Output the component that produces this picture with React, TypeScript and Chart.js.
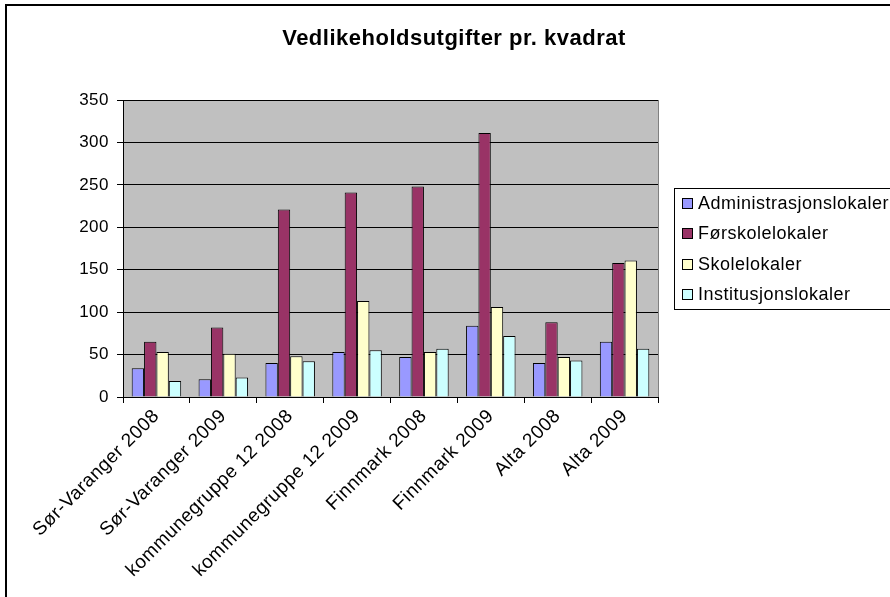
import React, { useEffect, useRef } from "react";
import { Chart, registerables } from "chart.js";

Chart.register(...registerables);

const titleText = "Vedlikeholdsutgifter pr. kvadrat";
const categories = [
  "Sør-Varanger 2008",
  "Sør-Varanger 2009",
  "kommunegruppe 12 2008",
  "kommunegruppe 12 2009",
  "Finnmark 2008",
  "Finnmark 2009",
  "Alta 2008",
  "Alta 2009",
];
const seriesNames = ["Administrasjonslokaler", "Førskolelokaler", "Skolelokaler", "Institusjonslokaler"];
const administrasjon = [34, 21, 40, 53, 47, 84, 40, 65];
const forskole = [65, 82, 221, 241, 248, 311, 88, 158];
const skole = [53, 51, 48, 113, 53, 106, 47, 161];
const institusjon = [19, 23, 42, 55, 57, 72, 43, 57];
const seriesColors = ["#9999FF", "#993366", "#FFFFCC", "#CCFFFF"];
const yMin = 0;
const yMax = 350;
const yStep = 50;

const FONT = "'Liberation Sans', Arial, sans-serif";
const LETTER_SPACING = "0.5px";

const spacingPlugin = {
  id: "spacing",
  beforeLayout(chart: any) {
    chart.ctx.letterSpacing = LETTER_SPACING;
  },
  beforeDraw(chart: any) {
    chart.ctx.letterSpacing = LETTER_SPACING;
  },
};

const backgroundPlugin = {
  id: "bgPlugin",
  beforeDraw(chart: any) {
    const { ctx, chartArea, width, height } = chart;
    ctx.save();
    ctx.fillStyle = "#ffffff";
    ctx.fillRect(0, 0, width, height);
    ctx.fillStyle = "#C0C0C0";
    ctx.fillRect(chartArea.left, chartArea.top, chartArea.right - chartArea.left, chartArea.bottom - chartArea.top);
    ctx.strokeStyle = "#808080";
    ctx.lineWidth = 1;
    ctx.strokeRect(chartArea.left + 0.5, chartArea.top + 0.5, chartArea.right - chartArea.left, chartArea.bottom - chartArea.top);
    ctx.restore();
  },
};

const legendBoxPlugin = {
  id: "legendBox",
  afterDraw(chart: any) {
    const { ctx } = chart;
    const left = 674;
    const top = 188;
    const bottom = 309;
    ctx.save();
    ctx.fillStyle = "#ffffff";
    ctx.fillRect(left, top, 260, bottom - top);
    ctx.strokeStyle = "#000000";
    ctx.lineWidth = 1;
    ctx.strokeRect(left + 0.5, top + 0.5, 260, bottom - top);
    ctx.font = `18px ${FONT}`;
    ctx.textBaseline = "middle";
    ctx.textAlign = "left";
    const n = chart.data.datasets.length;
    const spacing = 30.4;
    const cy0 = (top + bottom) / 2 - ((n - 1) * spacing) / 2;
    chart.data.datasets.forEach((ds: any, i: number) => {
      const cy = cy0 + i * spacing;
      ctx.fillStyle = ds.backgroundColor;
      ctx.fillRect(682, Math.round(cy - 5), 10, 10);
      ctx.strokeStyle = "#000";
      ctx.strokeRect(682.5, Math.round(cy - 5) + 0.5, 10, 10);
      ctx.fillStyle = "#000";
      ctx.fillText(ds.label, 698, cy + 1);
    });
    ctx.restore();
  },
};

const outerBorderPlugin = {
  id: "outerBorder",
  afterDraw(chart: any) {
    const { ctx } = chart;
    ctx.save();
    ctx.strokeStyle = "#000";
    ctx.lineWidth = 2;
    ctx.strokeRect(6, 5, 1000, 1000);
    ctx.restore();
  },
};

export default function App() {
  const canvasRef = useRef<HTMLCanvasElement | null>(null);

  useEffect(() => {
    document.body.style.margin = "0";
    const canvas = canvasRef.current;
    if (!canvas) return;
    const dataArrays = [administrasjon, forskole, skole, institusjon];
    const chart = new Chart(canvas, {
      type: "bar",
      data: {
        labels: categories,
        datasets: seriesNames.map((name, i) => ({
          label: name,
          data: dataArrays[i],
          backgroundColor: seriesColors[i],
          borderColor: "#000000",
          borderWidth: 1,
          categoryPercentage: 0.74,
          barPercentage: 1.0,
          yAxisID: "y",
        })),
      },
      options: {
        responsive: false,
        animation: false,
        devicePixelRatio: 1,
        layout: { padding: { left: 18, right: 0, top: 0, bottom: 0 } },
        plugins: {
          legend: { display: false },
          tooltip: { enabled: false },
          title: {
            display: true,
            text: titleText,
            color: "#000",
            font: { family: FONT, size: 22, weight: "bold" },
            padding: { top: 26, bottom: 47.6 },
          },
        },
        scales: {
          x: {
            afterFit(scale: any) {
              scale.height = 200;
            },
            grid: {
              display: true,
              drawOnChartArea: false,
              drawTicks: true,
              tickLength: 6,
              color: "#000",
              offset: true,
            },
            border: { display: true, color: "#000", width: 1 },
            ticks: {
              color: "#000",
              font: { family: FONT, size: 19 },
              minRotation: 45,
              maxRotation: 45,
              autoSkip: false,
              padding: 2,
            },
          },
          y: {
            position: "left",
            min: yMin,
            max: yMax,
            afterFit(scale: any) {
              scale.width = 105;
            },
            grid: {
              color: "#000",
              lineWidth: 1,
              drawTicks: true,
              tickLength: 6,
            },
            border: { display: true, color: "#000", width: 1 },
            ticks: {
              stepSize: yStep,
              color: "#000",
              font: { family: FONT, size: 17 },
              padding: 8,
            },
          },
          legendSpace: {
            type: "linear",
            position: "right",
            display: true,
            afterFit(scale: any) {
              scale.width = 232;
            },
            grid: { display: false, drawTicks: false },
            border: { display: false },
            ticks: { display: false },
          },
        },
      },
      plugins: [spacingPlugin, backgroundPlugin, legendBoxPlugin, outerBorderPlugin],
    } as any);
    return () => chart.destroy();
  }, []);

  return (
    <div style={{ width: 890, height: 597, overflow: "hidden", position: "relative" }}>
      <canvas ref={canvasRef} width={890} height={597} style={{ display: "block", width: 890, height: 597 }} />
    </div>
  );
}
